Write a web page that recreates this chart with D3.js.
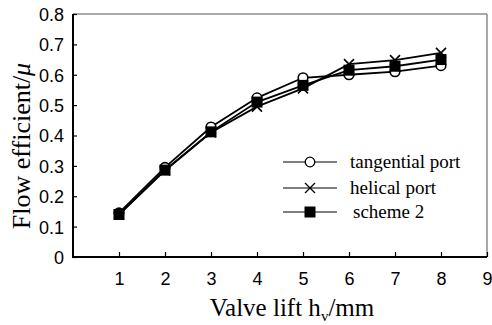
<!DOCTYPE html>
<html>
<head>
<meta charset="utf-8">
<script src="https://cdn.jsdelivr.net/npm/d3@7"></script>
<style>
  body { margin: 0; background: #fff; }
  svg { display: block; }
</style>
</head>
<body>
<div id="chart"></div>
<script>
// data
const lifts = [1, 2, 3, 4, 5, 6, 7, 8];
const tangential = [0.145, 0.295, 0.428, 0.524, 0.590, 0.600, 0.610, 0.630];
const helical = [0.140, 0.285, 0.410, 0.495, 0.555, 0.635, 0.648, 0.672];
const scheme2 = [0.140, 0.286, 0.412, 0.510, 0.565, 0.615, 0.628, 0.650];
const xTicks = [1, 2, 3, 4, 5, 6, 7, 8, 9];
const yTicks = [0, 0.1, 0.2, 0.3, 0.4, 0.5, 0.6, 0.7, 0.8];

const series = [
    { name: "tangential port", values: tangential, marker: "circle" },
    { name: "helical port", values: helical, marker: "cross" },
    { name: "scheme 2", values: scheme2, marker: "square" }
];

const width = 492, height = 325;
const margin = { left: 73, top: 14, right: 5, bottom: 68 };

const svg = d3.select("#chart").append("svg")
    .attr("width", width)
    .attr("height", height);

const x = d3.scaleLinear().domain([0, 9]).range([margin.left, width - margin.right]);
const y = d3.scaleLinear().domain([0, 0.8]).range([height - margin.bottom, margin.top]);

// box (top / right thin grey)
svg.append("line")
    .attr("x1", x(0)).attr("x2", x(9))
    .attr("y1", y(0.8)).attr("y2", y(0.8))
    .attr("stroke", "#555").attr("stroke-width", 1);
svg.append("line")
    .attr("x1", x(9)).attr("x2", x(9))
    .attr("y1", y(0.8)).attr("y2", y(0))
    .attr("stroke", "#555").attr("stroke-width", 1);

// y axis
const yAxis = svg.append("g")
    .attr("transform", `translate(${x(0)},0)`)
    .call(d3.axisRight(y).tickValues(yTicks).tickSize(4).tickFormat(d => d === 0 ? "0" : d3.format(".1f")(d)));
yAxis.select(".domain").remove();
yAxis.selectAll(".tick line").attr("stroke", "#000").attr("stroke-width", 1.2);
yAxis.selectAll(".tick text")
    .attr("x", -9)
    .attr("dy", "0.36em")
    .attr("text-anchor", "end")
    .attr("font-family", "Liberation Sans, Arial, sans-serif")
    .attr("font-size", 18)
    .attr("fill", "#000");

// x axis
const xAxis = svg.append("g")
    .attr("transform", `translate(0,${y(0)})`)
    .call(d3.axisTop(x).tickValues(xTicks).tickSize(5).tickFormat(d3.format("d")));
xAxis.select(".domain").remove();
xAxis.selectAll(".tick line").attr("stroke", "#000").attr("stroke-width", 1.2);
xAxis.selectAll(".tick text")
    .attr("y", 28)
    .attr("font-family", "Liberation Sans, Arial, sans-serif")
    .attr("font-size", 18)
    .attr("fill", "#000");

// left and bottom axis lines
svg.append("line")
    .attr("x1", x(0)).attr("x2", x(0))
    .attr("y1", y(0.8)).attr("y2", y(0) + 1)
    .attr("stroke", "#000").attr("stroke-width", 2);
svg.append("line")
    .attr("x1", x(0)).attr("x2", x(9))
    .attr("y1", y(0)).attr("y2", y(0))
    .attr("stroke", "#000").attr("stroke-width", 2);

// marker drawing helper
function drawMarker(g, type, cx, cy, lineW) {
    if (type === "circle") {
        g.append("circle")
            .attr("cx", cx).attr("cy", cy).attr("r", 4.8)
            .attr("fill", "#fff").attr("stroke", "#000").attr("stroke-width", lineW);
    } else if (type === "cross") {
        const s = 5;
        g.append("path")
            .attr("d", `M${cx - s},${cy - s}L${cx + s},${cy + s}M${cx - s},${cy + s}L${cx + s},${cy - s}`)
            .attr("stroke", "#000").attr("stroke-width", lineW).attr("fill", "none");
    } else {
        g.append("rect")
            .attr("x", cx - 5.5).attr("y", cy - 5.5)
            .attr("width", 11).attr("height", 11)
            .attr("fill", "#000");
    }
}

const line = d3.line()
    .x((d, i) => x(lifts[i]))
    .y(d => y(d));

// series
series.forEach(s => {
    const g = svg.append("g");
    g.append("path")
        .attr("d", line(s.values))
        .attr("fill", "none")
        .attr("stroke", "#000")
        .attr("stroke-width", 1.8);
    s.values.forEach((v, i) => drawMarker(g, s.marker, x(lifts[i]), y(v), 1.6));
});

// legend
const legendY = [162, 188, 212];
series.forEach((s, i) => {
    const g = svg.append("g");
    g.append("line")
        .attr("x1", 283).attr("x2", 337)
        .attr("y1", legendY[i]).attr("y2", legendY[i])
        .attr("stroke", "#000").attr("stroke-width", 1.2);
    drawMarker(g, s.marker, 310, legendY[i], 1.3);
    g.append("text")
        .attr("x", i === 2 ? 353 : 350)
        .attr("y", legendY[i] + 6)
        .attr("font-family", "Liberation Serif, Times New Roman, serif")
        .attr("font-size", 19)
        .text(s.name);
});

// axis titles
const xTitle = svg.append("text")
    .attr("x", 292)
    .attr("y", 316)
    .attr("text-anchor", "middle")
    .attr("font-family", "Liberation Serif, Times New Roman, serif")
    .attr("font-size", 25);
xTitle.append("tspan").text("Valve lift h");
xTitle.append("tspan").attr("font-size", 15).attr("dy", 5).text("v");
xTitle.append("tspan").attr("dy", -5).text("/mm");

const yTitle = svg.append("text")
    .attr("transform", `translate(30,146) rotate(-90)`)
    .attr("text-anchor", "middle")
    .attr("font-family", "Liberation Serif, Times New Roman, serif")
    .attr("font-size", 26);
yTitle.append("tspan").text("Flow efficient/");
yTitle.append("tspan").attr("font-style", "italic").text("\u03bc");
</script>
</body>
</html>
